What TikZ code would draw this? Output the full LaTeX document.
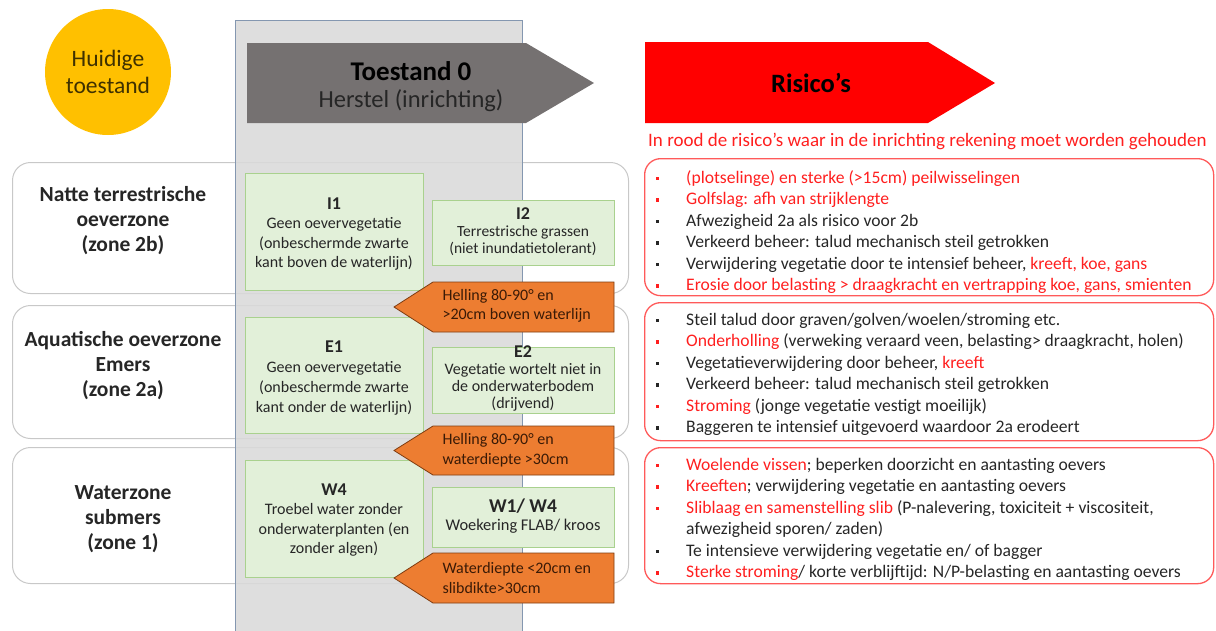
\documentclass[tikz,border=0pt]{standalone}
\usepackage{fontspec}
\setmainfont{Carlito}
\usetikzlibrary{shapes.geometric}
\definecolor{ink}{HTML}{262626}
\definecolor{rtext}{HTML}{FF1F1F}
\definecolor{colfill}{HTML}{DADADA}
\definecolor{colbord}{HTML}{8497B0}
\definecolor{darkarr}{HTML}{757171}
\definecolor{gfill}{HTML}{E2F0D9}
\definecolor{gbord}{HTML}{A9D18E}
\definecolor{ofill}{HTML}{ED7D31}
\definecolor{obord}{HTML}{7F3C10}
\definecolor{otext}{HTML}{3A1A06}
\definecolor{yel}{HTML}{FFC000}
\definecolor{yeltext}{HTML}{3F3100}
\definecolor{zbord}{HTML}{C8C8C8}
\definecolor{rbord}{HTML}{FF5A5A}
\newcommand\rd[1]{\textcolor{rtext}{#1}}
\begin{document}
\begin{tikzpicture}[x=1pt,y=-1pt,
  zonebox/.style={draw=zbord, line width=1pt, rounded corners=18pt, fill=white, anchor=north west, inner sep=0pt},
  riskbox/.style={draw=rbord, line width=1.3pt, rounded corners=16pt, anchor=north west, inner sep=0pt},
  zlabel/.style={align=center, text=ink, font=\fontsize{21.5}{25}\selectfont\bfseries},
  greenbox/.style={draw=gbord, line width=1pt, fill=gfill, align=center, inner sep=0pt, text=ink, anchor=north west},
  gtext/.style={align=center, text=ink},
  otxt/.style={align=left, text=otext, anchor=west, font=\fontsize{16}{19.5}\selectfont},
  arrowshape/.style={fill=ofill, draw=obord, line width=0.8pt},
  rline/.style={anchor=base west, text=ink, inner sep=0pt, font=\fontsize{17.6}{20}\selectfont},
]
\useasboundingbox (0,0) rectangle (1216,630);

% yellow circle
\node[circle, fill=yel, minimum size=126pt, inner sep=0pt, align=center, text=yeltext,
  font=\fontsize{23.5}{27}\selectfont] (huidig) at (108,72) {Huidige\\toestand};

% zone boxes
\node[zonebox, minimum width=616pt, minimum height=131pt] (z2b) at (12,162) {};
\node[zonebox, minimum width=616pt, minimum height=133pt] (z2a) at (12,305) {};
\node[zonebox, minimum width=616pt, minimum height=136pt] (z1) at (12,447) {};

\node[zlabel] (l2b) at (123,221) {Natte terrestrische\\oeverzone\\(zone 2b)};
\node[zlabel] (l2a) at (123,366) {Aquatische oeverzone\\Emers\\(zone 2a)};
\node[zlabel] (l1) at (123,519) {Waterzone\\submers\\(zone 1)};

% gray column
\node[draw=colbord, line width=1pt, fill=colfill, fill opacity=0.88, anchor=north west,
  minimum width=287pt, minimum height=615pt, inner sep=0pt] (kolom) at (235,20) {};

% dark arrow
\fill[darkarr] (247,43) -- (526,43) -- (594,83) -- (526,123) -- (247,123) -- cycle;
\node[text=black, font=\fontsize{27}{30}\selectfont\bfseries] (t0) at (411,71) {Toestand 0};
\node[text=ink, font=\fontsize{24.5}{28}\selectfont] (t0b) at (411,101) {Herstel (inrichting)};

% red arrow
\fill[red] (645,42) -- (928,42) -- (995,83) -- (928,123) -- (645,123) -- cycle;
\node[text=black, font=\fontsize{26.5}{30}\selectfont\bfseries] (ris) at (811,83) {Risico’s};
\node[text=rtext, anchor=base west, inner sep=0pt, font=\fontsize{19}{22}\selectfont] (cap) at (648,146)
  {In rood de risico’s waar in de inrichting rekening moet worden gehouden};

% green boxes
\node[greenbox, minimum width=178pt, minimum height=117pt] (I1) at (245,173) {};
\node[gtext, font=\fontsize{16}{19.5}\selectfont] (I1t) at (334,234)
  {{\bfseries\fontsize{18}{19.5}\selectfont I1}\\Geen oevervegetatie\\(onbeschermde zwarte\\kant boven de waterlijn)};
\node[greenbox, minimum width=182pt, minimum height=65pt] (I2) at (432,200) {};
\node[gtext, font=\fontsize{15.5}{17}\selectfont] (I2t) at (523,232)
  {{\bfseries\fontsize{18}{17}\selectfont I2}\\Terrestrische grassen\\(niet inundatietolerant)};

\node[greenbox, minimum width=178pt, minimum height=116pt] (E1) at (245,317) {};
\node[gtext, font=\fontsize{16}{20}\selectfont] (E1t) at (334,378)
  {{\bfseries\fontsize{18}{20}\selectfont E1}\\Geen oevervegetatie\\(onbeschermde zwarte\\kant onder de waterlijn)};
\node[greenbox, minimum width=182pt, minimum height=66pt] (E2) at (432,347) {};
\node[gtext, font=\fontsize{16}{17}\selectfont] (E2t) at (523,378)
  {{\bfseries\fontsize{18}{17}\selectfont E2}\\Vegetatie wortelt niet in\\de onderwaterbodem\\(drijvend)};

\node[greenbox, minimum width=178pt, minimum height=117pt] (W4) at (245,460) {};
\node[gtext, font=\fontsize{16}{19.5}\selectfont] (W4t) at (334,520)
  {{\bfseries\fontsize{18}{19.5}\selectfont W4}\\Troebel water zonder\\onderwaterplanten (en\\zonder algen)};
\node[greenbox, minimum width=182pt, minimum height=60pt] (W14) at (432,487) {};
\node[gtext, font=\fontsize{16.4}{18}\selectfont] (W14t) at (523,516)
  {{\bfseries\fontsize{19.5}{18}\selectfont W1/ W4}\\Woekering FLAB/ kroos};

% orange arrows
\draw[arrowshape] (433,282) -- (614,282) -- (614,332) -- (433,332) -- (394,307) -- cycle;
\node[otxt] (o1) at (439,306) {Helling 80-90° en\\>20cm boven waterlijn};
\draw[arrowshape] (433,426) -- (614,426) -- (614,475) -- (433,475) -- (394,450.5) -- cycle;
\node[otxt] (o2) at (439,450) {Helling 80-90° en\\waterdiepte >30cm};
\draw[arrowshape] (433,553) -- (614,553) -- (614,603) -- (433,603) -- (394,578) -- cycle;
\node[otxt] (o3) at (439,578) {Waterdiepte <20cm en\\slibdikte>30cm};

% risk boxes
\node[riskbox, minimum width=569pt, minimum height=137pt] (r1) at (644,158) {};
\node[riskbox, minimum width=569pt, minimum height=138pt] (r2) at (644,302) {};
\node[riskbox, minimum width=569pt, minimum height=136pt] (r3) at (644,447) {};

% bullets
\foreach \y/\c in {183/rtext,204.5/rtext,226/ink,247.5/ink,269/ink,290.5/rtext,
                   325/ink,346.5/rtext,368/ink,389.5/ink,411/rtext,432.5/ink,
                   470/rtext,491.5/rtext,513/rtext,556/ink,577.5/rtext}
  \fill[\c] (655.5,\y-6.5) rectangle ++(3.6,3.6);

\node[rline] (a1) at (686,183) {\rd{(plotselinge) en sterke (>15cm) peilwisselingen}};
\node[rline] (a2) at (686,204.5) {\rd{Golfslag: afh van strijklengte}};
\node[rline] (a3) at (686,226) {Afwezigheid 2a als risico voor 2b};
\node[rline] (a4) at (686,247.5) {Verkeerd beheer: talud mechanisch steil getrokken};
\node[rline] (a5) at (686,269) {Verwijdering vegetatie door te intensief beheer, \rd{kreeft, koe, gans}};
\node[rline] (a6) at (686,290.5) {\rd{Erosie door belasting > draagkracht en vertrapping koe, gans, smienten}};

\node[rline] (b1) at (686,325) {Steil talud door graven/golven/woelen/stroming etc.};
\node[rline] (b2) at (686,346.5) {\rd{Onderholling} (verweking veraard veen, belasting> draagkracht, holen)};
\node[rline] (b3) at (686,368) {Vegetatieverwijdering door beheer, \rd{kreeft}};
\node[rline] (b4) at (686,389.5) {Verkeerd beheer: talud mechanisch steil getrokken};
\node[rline] (b5) at (686,411) {\rd{Stroming} (jonge vegetatie vestigt moeilijk)};
\node[rline] (b6) at (686,432.5) {Baggeren te intensief uitgevoerd waardoor 2a erodeert};

\node[rline] (c1) at (686,470) {\rd{Woelende vissen}; beperken doorzicht en aantasting oevers};
\node[rline] (c2) at (686,491.5) {\rd{Kreeften}; verwijdering vegetatie en aantasting oevers};
\node[rline] (c3) at (686,513) {\rd{Sliblaag en samenstelling slib} (P-nalevering, toxiciteit + viscositeit,};
\node[rline] (c3b) at (686,534.5) {afwezigheid sporen/ zaden)};
\node[rline] (c4) at (686,556) {Te intensieve verwijdering vegetatie en/ of bagger};
\node[rline] (c5) at (686,577.5) {\rd{Sterke stroming}/ korte verblijftijd: N/P-belasting en aantasting oevers};
\end{tikzpicture}
\end{document}
